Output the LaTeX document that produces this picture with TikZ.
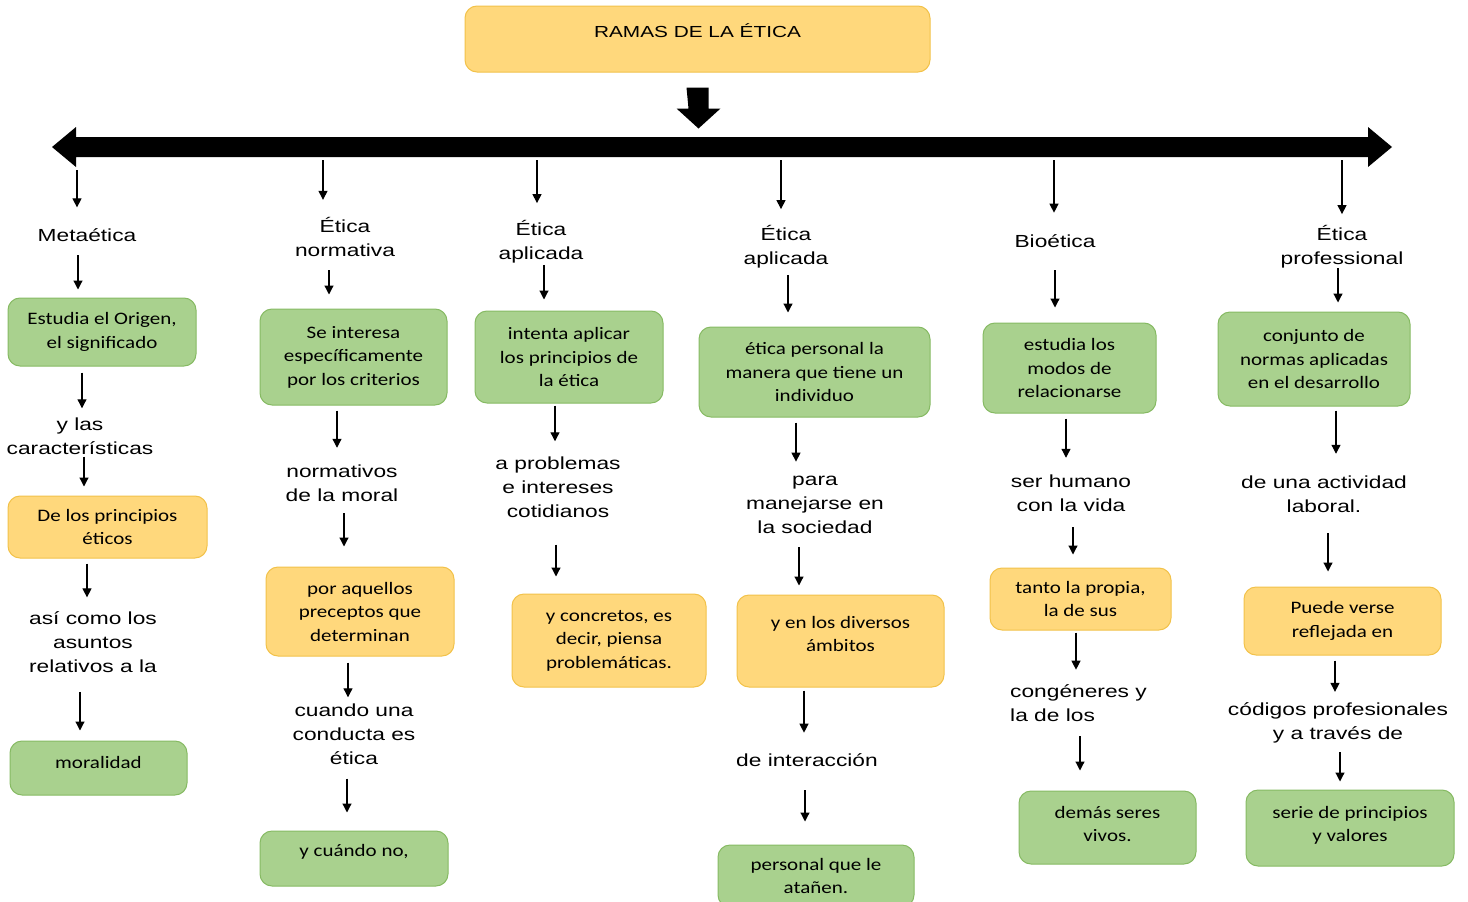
\documentclass[tikz,border=0pt]{standalone}
\usepackage{fontspec}
\setmainfont{Liberation Sans}
\newfontfamily\etfont[FakeStretch=1.3]{Liberation Sans}
\newfontfamily\cajafont[FakeStretch=1.2]{Carlito}
\usetikzlibrary{arrows.meta, positioning}
\definecolor{verdeF}{HTML}{A9D18E}
\definecolor{verdeB}{HTML}{86BA63}
\definecolor{naranjaF}{HTML}{FFD87C}
\definecolor{naranjaB}{HTML}{F2C24A}

\begin{document}
\begin{tikzpicture}[
    x=1pt, y=-1pt,
    every node/.style={inner sep=0pt},
    etiq/.style={font=\etfont\fontsize{17.5}{24}\selectfont, align=center},
    caja/.style={rectangle, rounded corners=12pt, line width=1pt, align=center,
                 font=\cajafont\fontsize{17.5}{23.5}\selectfont},
    verde/.style={caja, draw=verdeB, fill=verdeF},
    naranja/.style={caja, draw=naranjaB, fill=naranjaF},
    tam/.style 2 args={minimum width=#1pt, minimum height=#2pt},
    flecha/.style={-{Triangle[length=9pt,width=9pt]}, line width=1.2pt},
    fl/.style 2 args={flecha, shorten <=#1pt, shorten >=#2pt}
]
\useasboundingbox (0,0) rectangle (1468,902);

% Titulo y barra
\node[naranja, tam={465}{66}, font=\etfont\fontsize{16}{20}\selectfont] (titulo) at (697.5,39) {RAMAS DE LA ÉTICA\\[-4pt]\mbox{}};
\fill (titulo.south) ++(-11,15) -- ++(22,0) -- ++(0,21) -- ++(12,0) -- ++(-22,20) -- ++(-22,-20) -- ++(12,0) -- cycle;
\fill (52,147) -- (76,127) -- (76,137) -- (1368,137) -- (1368,127) -- (1392,147)
      -- (1368,167) -- (1368,157) -- (76,157) -- (76,167) -- cycle;
\coordinate (s1) at (77,170);
\coordinate (s2) at (323,160);
\coordinate (s3) at (537,160);
\coordinate (s4) at (781,160);
\coordinate (s5) at (1054,160);
\coordinate (s6) at (1342,160);

% Metaetica
\node[etiq] (t11) at (87,235.6) {Metaética};
\node[verde, tam={188}{68}] (b11) at (102,332) {Estudia el Origen,\\el significado};
\node[etiq] (t12) at (80,436.4) {y las\\características};
\node[naranja, tam={199}{62}] (b12) at (107.5,527) {De los principios\\éticos};
\node[etiq] (t13) at (93,642.1) {así como los\\asuntos\\relativos a la};
\node[verde, tam={177}{54}] (b13) at (98.5,768) {moralidad\\[-11.5pt]\mbox{}};

% Etica normativa
\node[etiq] (t21) at (345,236.7) {Ética\\normativa};
\node[verde, tam={187}{96}] (b21) at (353.5,357) {Se interesa\\específicamente\\por los criterios};
\node[etiq] (t22) at (342,483.1) {normativos\\de la moral};
\node[naranja, tam={188}{89}] (b22) at (360,611.5) {por aquellos\\preceptos que\\determinan};
\node[etiq] (t23) at (354,734.6) {cuando una\\conducta es\\ética};
\node[verde, tam={188}{55}] (b23) at (354,858.5) {y cuándo no,\\[-7.1pt]\mbox{}};

% Etica aplicada (1)
\node[etiq] (t31) at (541,241.5) {Ética\\aplicada};
\node[verde, tam={188}{92}] (b31) at (569,357) {intenta aplicar\\los principios de\\la ética};
\node[etiq] (t32) at (558,487.6) {a problemas\\e intereses\\cotidianos};
\node[naranja, tam={194}{93}] (b32) at (609,640.5) {y concretos, es\\decir, piensa\\problemáticas.};

% Etica aplicada (2)
\node[etiq] (t41) at (786,247) {Ética\\aplicada};
\node[verde, tam={231}{90}] (b41) at (814.5,372) {ética personal la\\manera que tiene un\\individuo};
\node[etiq] (t42) at (815,505) {para\\manejarse en\\la sociedad};
\node[naranja, tam={207}{92}] (b42) at (840.5,641) {y en los diversos\\ámbitos\\[-9.5pt]\mbox{}};
\node[etiq] (t43) at (807,760.1) {de interacción};
\node[verde, tam={196}{62}] (b43) at (816,876) {personal que le\\atañen.};

% Bioetica
\node[etiq] (t51) at (1055,241.6) {Bioética};
\node[verde, tam={173}{90}] (b51) at (1069.5,368) {estudia los\\modos de\\relacionarse};
\node[etiq] (t52) at (1071,493.1) {ser humano\\con la vida};
\node[naranja, tam={181}{62}] (b52) at (1080.5,599) {tanto la propia,\\la de sus};
\node[etiq, anchor=west, align=left] (t53) at (1010,703.1) {congéneres y\\la de los};
\node[verde, tam={177}{73}] (b53) at (1107.5,827.5) {demás seres\\vivos.\\[-16.5pt]\mbox{}};

% Etica profesional
\node[etiq] (t61) at (1342,246.5) {Ética\\professional};
\node[verde, tam={192}{94}] (b61) at (1314,359) {conjunto de\\normas aplicadas\\en el desarrollo};
\node[etiq] (t62) at (1324,494.1) {de una actividad\\laboral.};
\node[naranja, tam={197}{68}] (b62) at (1342.5,621) {Puede verse\\reflejada en};
\node[etiq] (t63) at (1338,723) {códigos profesionales\\y a través de};
\node[verde, tam={208}{76}] (b63) at (1350,828) {serie de principios\\y valores\\[-15.5pt]\mbox{}};

% Flechas
\draw[fl={0}{21.5}] (s1) -- (t11.north -| s1);
\draw[fl={13}{8}] (t11.south -| 78,0) -- (b11.north -| 78,0);
\draw[fl={6}{9.5}] (b11.south -| 82,0) -- (t12.north -| 82,0);
\draw[fl={1.5}{9}] (t12.south -| 84,0) -- (b12.north -| 84,0);
\draw[fl={5}{14}] (b12.south -| 87,0) -- (t13.north -| 87,0);
\draw[fl={19}{10}] (t13.south -| 80,0) -- (b13.north -| 80,0);

\draw[fl={0}{17}] (s2) -- (t21.north -| s2);
\draw[fl={13.5}{14}] (t21.south -| 329,0) -- (b21.north -| 329,0);
\draw[fl={5}{16.7}] (b21.south -| 337,0) -- (t22.north -| 337,0);
\draw[fl={11.5}{20}] (t22.south -| 344,0) -- (b22.north -| 344,0);
\draw[fl={6}{6.7}] (b22.south -| 348,0) -- (t23.north -| 348,0);
\draw[fl={13.5}{18}] (t23.south -| 347,0) -- (b23.north -| 347,0);

\draw[fl={0}{16.8}] (s3) -- (t31.north -| s3);
\draw[fl={1.8}{11}] (t31.south -| 544,0) -- (b31.north -| 544,0);
\draw[fl={2}{15.7}] (b31.south -| 555,0) -- (t32.north -| 555,0);
\draw[fl={26.5}{17}] (t32.south -| 556,0) -- (b32.north -| 556,0);

\draw[fl={0}{16.3}] (s4) -- (t41.north -| s4);
\draw[fl={6.3}{14}] (t41.south -| 788,0) -- (b41.north -| 788,0);
\draw[fl={5}{14.4}] (b41.south -| 796,0) -- (t42.north -| 796,0);
\draw[fl={13.5}{9}] (t42.south -| 799,0) -- (b42.north -| 799,0);
\draw[fl={3}{20.7}] (b42.south -| 804,0) -- (t43.north -| 804,0);
\draw[fl={23.5}{23}] (t43.south -| 805,0) -- (b43.north -| 805,0);

\draw[fl={0}{22.2}] (s5) -- (t51.north -| s5);
\draw[fl={22}{15}] (t51.south -| 1055,0) -- (b51.north -| 1055,0);
\draw[fl={5}{16.7}] (b51.south -| 1066,0) -- (t52.north -| 1066,0);
\draw[fl={15.5}{13}] (t52.south -| 1073,0) -- (b52.north -| 1073,0);
\draw[fl={2}{14.7}] (b52.south -| 1076,0) -- (t53.north -| 1076,0);
\draw[fl={14.5}{20}] (t53.south -| 1080,0) -- (b53.north -| 1080,0);

\draw[fl={0}{10.8}] (s6) -- (t61.north -| s6);
\draw[fl={0}{9}] (t61.south -| 1338,0) -- (b61.north -| 1338,0);
\draw[fl={4}{21.7}] (b61.south -| 1336,0) -- (t62.north -| 1336,0);
\draw[fl={20.5}{15}] (t62.south -| 1328,0) -- (b62.north -| 1328,0);
\draw[fl={5}{10.7}] (b62.south -| 1335,0) -- (t63.north -| 1335,0);
\draw[fl={8.8}{8}] (t63.south -| 1340,0) -- (b63.north -| 1340,0);
\end{tikzpicture}
\end{document}
